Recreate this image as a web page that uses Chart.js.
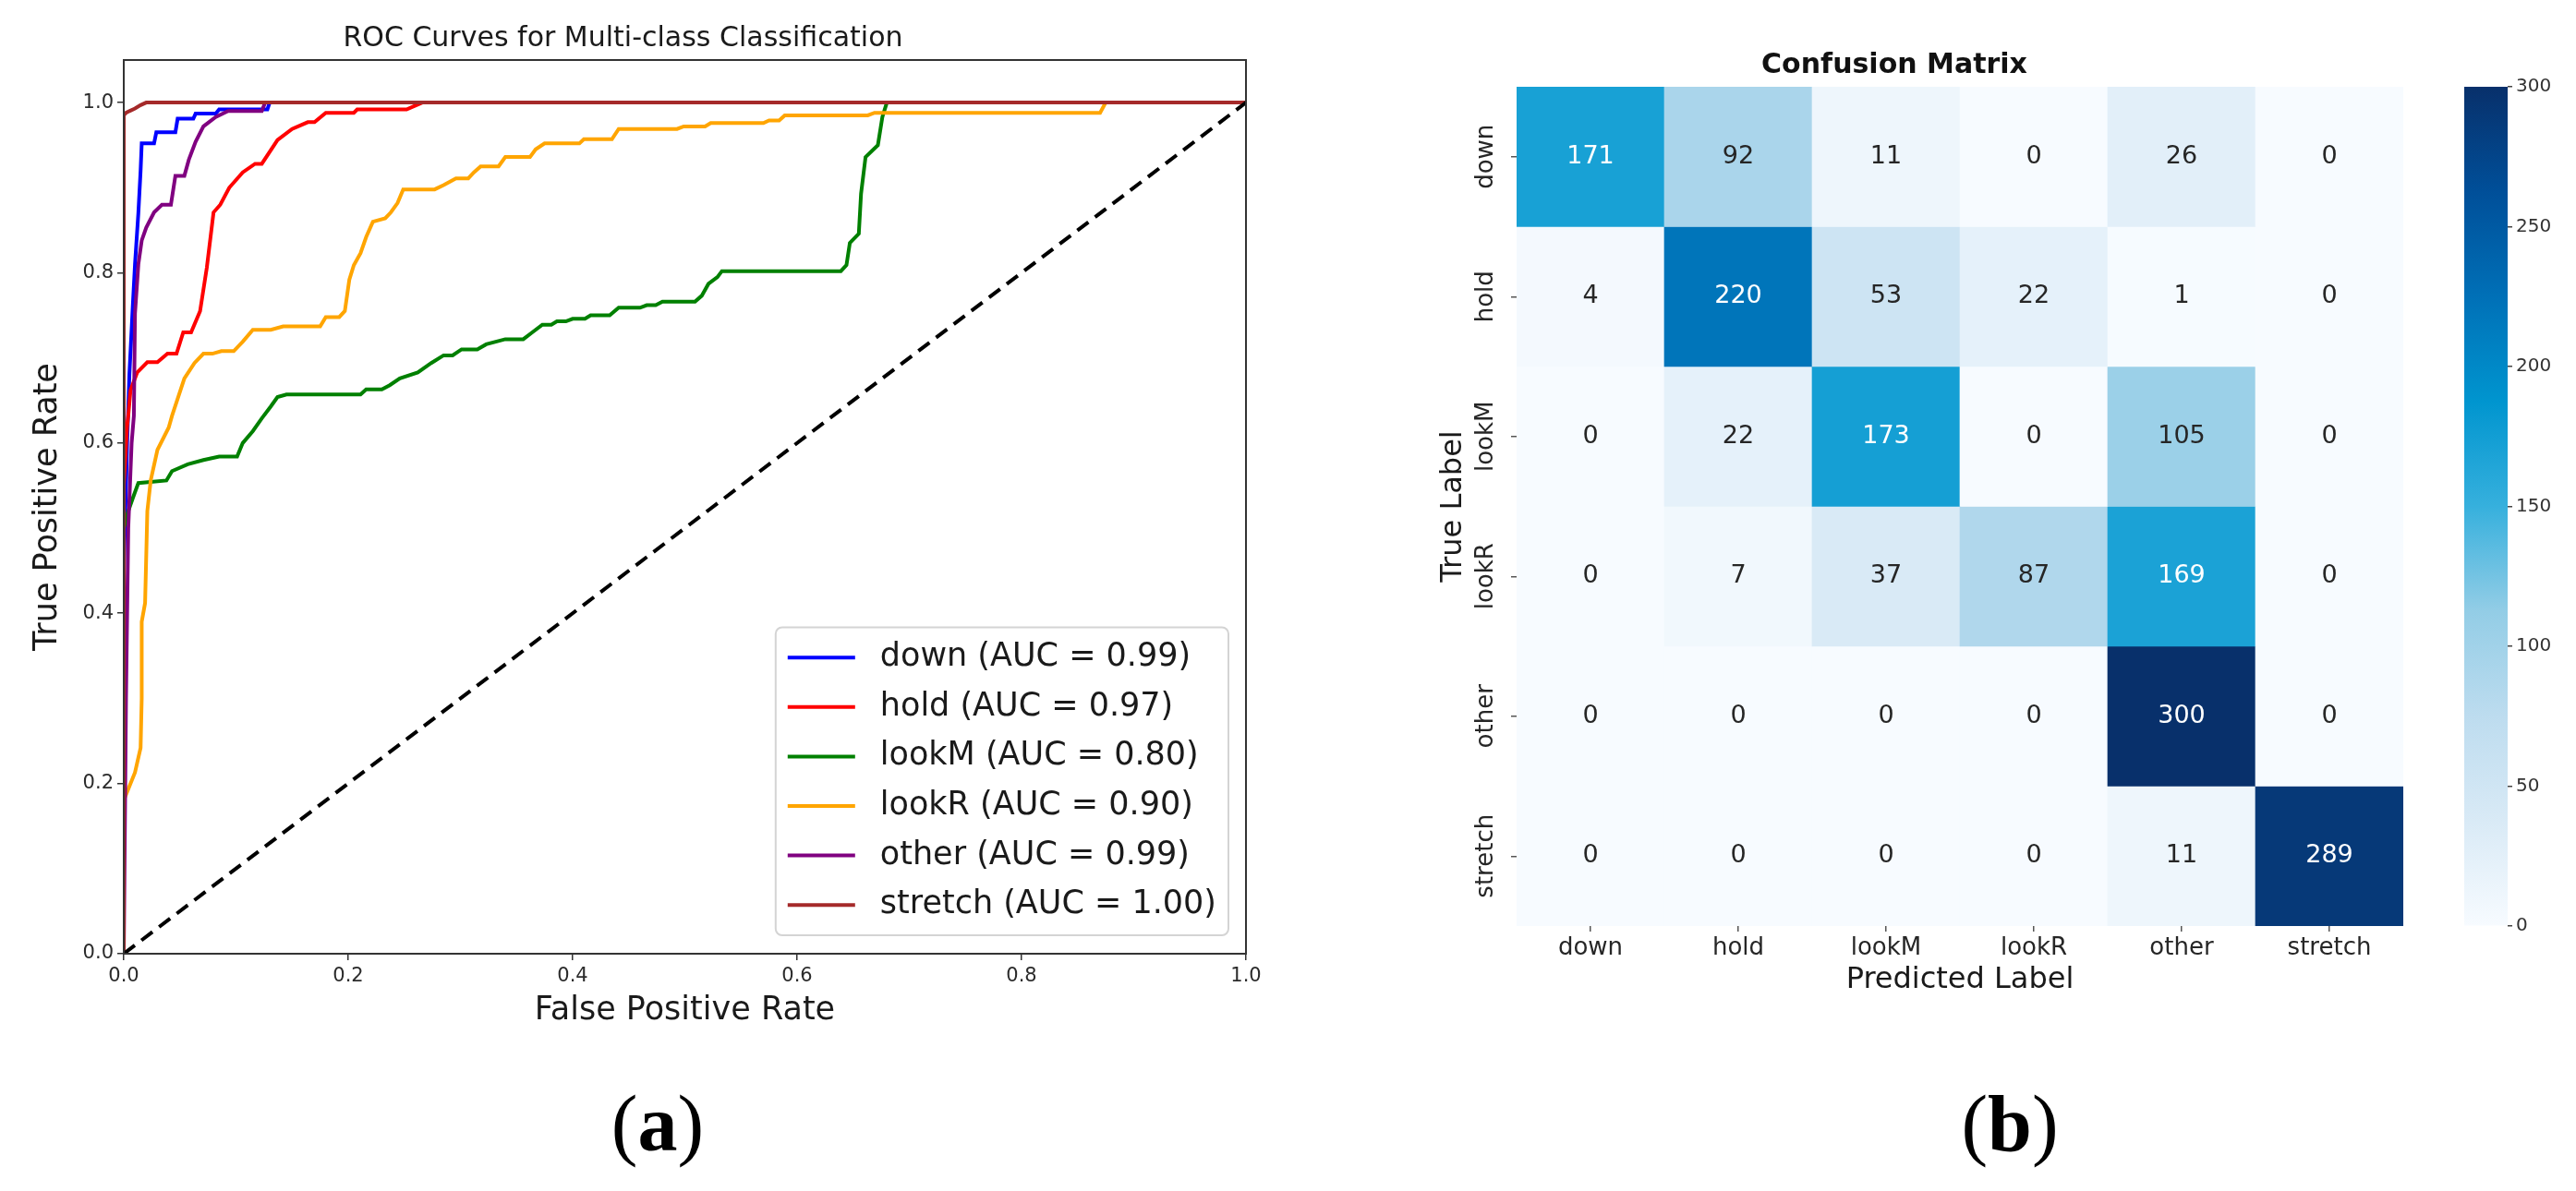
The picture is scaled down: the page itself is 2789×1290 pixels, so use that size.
<!DOCTYPE html>
<html>
<head>
<meta charset="utf-8">
<script src="https://cdn.jsdelivr.net/npm/chart.js@4.4.1/dist/chart.umd.min.js"></script>
<style>
    html, body { margin: 0; padding: 0; background: #fff; }
    #page { position: relative; width: 2789px; height: 1290px; overflow: hidden; background: #fff; }
    canvas { position: absolute; }
    .panel { position: absolute; width: 200px; text-align: center; font-family: "Liberation Serif", serif; font-size: 86px; line-height: 86px; color: #000; }
</style>
</head>
<body>
<div id="page">
    <canvas id="roc" width="1482" height="1120" style="left:0;top:0"></canvas>
    <canvas id="cm" width="1244" height="1090" style="left:1500px;top:0"></canvas>
    <canvas id="cbar" width="189" height="1100" style="left:2600px;top:0"></canvas>
    <div class="panel" style="left:612px;top:1174px">(<b>a</b>)</div>
    <div class="panel" style="left:2076px;top:1174px">(<b>b</b>)</div>
</div>
<script>
// class names and AUC values shown in the legend
const classNames = ['down', 'hold', 'lookM', 'lookR', 'other', 'stretch'];
const aucValues = [0.99, 0.97, 0.80, 0.90, 0.99, 1.00];

// ROC curves (false positive rate / true positive rate)
const downFpr = [0, 0, 0.003, 0.005, 0.008, 0.010, 0.013, 0.015, 0.016, 0.027, 0.029, 0.046, 0.048, 0.062, 0.064, 0.082, 0.085, 0.128, 0.130, 1];
const downTpr = [0, 0.45, 0.60, 0.68, 0.76, 0.81, 0.87, 0.92, 0.952, 0.952, 0.965, 0.965, 0.981, 0.981, 0.987, 0.987, 0.992, 0.992, 1, 1];

const holdFpr = [0, 0, 0.003, 0.004, 0.006, 0.012, 0.021, 0.030, 0.039, 0.047, 0.053, 0.060, 0.068, 0.074, 0.080, 0.086, 0.094, 0.106, 0.117, 0.123, 0.137, 0.150, 0.164, 0.170, 0.180, 0.205, 0.208, 0.252, 0.266, 1];
const holdTpr = [0, 0.55, 0.62, 0.632, 0.662, 0.683, 0.695, 0.695, 0.705, 0.705, 0.73, 0.73, 0.755, 0.806, 0.871, 0.88, 0.90, 0.918, 0.928, 0.928, 0.956, 0.969, 0.977, 0.977, 0.988, 0.988, 0.992, 0.992, 1, 1];

const lookMFpr = [0, 0, 0.004, 0.008, 0.013, 0.038, 0.043, 0.057, 0.071, 0.085, 0.101, 0.106, 0.115, 0.123, 0.131, 0.137, 0.145, 0.211, 0.216, 0.230,
    0.237, 0.246, 0.262, 0.274, 0.285, 0.293, 0.301, 0.315, 0.323, 0.340, 0.356, 0.364, 0.373, 0.381, 0.386, 0.394, 0.400, 0.411, 0.416, 0.433,
    0.441, 0.460, 0.466, 0.474, 0.480, 0.509, 0.515, 0.521, 0.529, 0.533, 0.639, 0.644, 0.647, 0.655, 0.657, 0.661, 0.672, 0.676, 0.680, 1];
const lookMTpr = [0, 0.50, 0.52, 0.535, 0.553, 0.556, 0.567, 0.575, 0.58, 0.584, 0.584, 0.60, 0.614, 0.629, 0.643, 0.654, 0.657, 0.657, 0.663, 0.663,
    0.668, 0.676, 0.683, 0.694, 0.703, 0.703, 0.71, 0.71, 0.716, 0.722, 0.722, 0.73, 0.739, 0.739, 0.743, 0.743, 0.746, 0.746, 0.75, 0.75,
    0.759, 0.759, 0.762, 0.762, 0.766, 0.766, 0.773, 0.787, 0.795, 0.802, 0.802, 0.809, 0.835, 0.846, 0.893, 0.936, 0.95, 0.983, 1, 1];

const lookRFpr = [0, 0, 0.003, 0.010, 0.015, 0.016, 0.016, 0.019, 0.021, 0.024, 0.030, 0.040, 0.043, 0.054, 0.063, 0.071, 0.079, 0.087, 0.098, 0.106,
    0.115, 0.131, 0.142, 0.175, 0.180, 0.192, 0.197, 0.201, 0.205, 0.211, 0.216, 0.222, 0.233, 0.238, 0.244, 0.249, 0.277, 0.285, 0.296, 0.307,
    0.312, 0.318, 0.334, 0.340, 0.362, 0.367, 0.375, 0.406, 0.410, 0.435, 0.441, 0.493, 0.499, 0.518, 0.523, 0.570, 0.575, 0.584, 0.589, 0.663,
    0.669, 0.870, 0.875, 1];
const lookRTpr = [0, 0.18, 0.19, 0.213, 0.242, 0.30, 0.39, 0.412, 0.52, 0.556, 0.592, 0.618, 0.632, 0.676, 0.694, 0.705, 0.705, 0.708, 0.708, 0.719,
    0.733, 0.733, 0.737, 0.737, 0.748, 0.748, 0.755, 0.792, 0.809, 0.823, 0.842, 0.86, 0.864, 0.871, 0.882, 0.898, 0.898, 0.903, 0.911, 0.911,
    0.918, 0.925, 0.925, 0.936, 0.936, 0.945, 0.952, 0.952, 0.957, 0.957, 0.969, 0.969, 0.972, 0.972, 0.976, 0.976, 0.979, 0.979, 0.985, 0.985,
    0.988, 0.988, 1, 1];

const otherFpr = [0, 0.002, 0.004, 0.007, 0.009, 0.010, 0.013, 0.016, 0.020, 0.027, 0.034, 0.042, 0.046, 0.054, 0.058, 0.064, 0.071, 0.082, 0.093, 0.123, 0.126, 1];
const otherTpr = [0, 0.30, 0.50, 0.60, 0.632, 0.752, 0.81, 0.838, 0.853, 0.871, 0.88, 0.88, 0.914, 0.914, 0.933, 0.954, 0.972, 0.983, 0.99, 0.99, 1, 1];

const stretchFpr = [0, 0, 0.002, 0.005, 0.010, 0.015, 0.020, 1];
const stretchTpr = [0, 0.985, 0.988, 0.990, 0.993, 0.997, 1, 1];

const chanceLine = [0, 1];
const rocTicks = [0, 0.2, 0.4, 0.6, 0.8, 1.0];

// confusion matrix, one row per true label
const cmLabels = ['down', 'hold', 'lookM', 'lookR', 'other', 'stretch'];
const cmDown = [171, 92, 11, 0, 26, 0];
const cmHold = [4, 220, 53, 22, 1, 0];
const cmLookM = [0, 22, 173, 0, 105, 0];
const cmLookR = [0, 7, 37, 87, 169, 0];
const cmOther = [0, 0, 0, 0, 300, 0];
const cmStretch = [0, 0, 0, 0, 11, 289];
const cbarTicks = [0, 50, 100, 150, 200, 250, 300];

// styles
const lineColors = ['#0000ff', '#ff0000', '#008000', '#ffa500', '#800080', '#a52a2a'];
const cmapStops = [[0, '#f7fbff'], [0.125, '#d9eaf6'], [0.25, '#bddcef'], [0.375, '#93cde6'], [0.5, '#36b0dd'],
    [0.625, '#0095cf'], [0.75, '#0070b7'], [0.875, '#004f99'], [1, '#08306b']];
const FONT = '"DejaVu Sans", sans-serif';

Chart.defaults.font.family = FONT;
Chart.defaults.color = '#222';

const rocSeries = [
    [downFpr, downTpr], [holdFpr, holdTpr], [lookMFpr, lookMTpr],
    [lookRFpr, lookRTpr], [otherFpr, otherTpr], [stretchFpr, stretchTpr]
];
const cmRows = [cmDown, cmHold, cmLookM, cmLookR, cmOther, cmStretch];

function toPoints(xs, ys) {
    return xs.map((x, i) => ({ x: x, y: ys[i] }));
}

function hexToRgb(h) {
    const n = parseInt(h.slice(1), 16);
    return [(n >> 16) & 255, (n >> 8) & 255, n & 255];
}

function blues(t) {
    t = Math.max(0, Math.min(1, t));
    for (let i = 1; i < cmapStops.length; i++) {
        if (t <= cmapStops[i][0]) {
            const [p0, c0] = cmapStops[i - 1];
            const [p1, c1] = cmapStops[i];
            const f = (t - p0) / (p1 - p0);
            const a = hexToRgb(c0), b = hexToRgb(c1);
            return a.map((v, k) => Math.round(v + (b[k] - v) * f));
        }
    }
    return hexToRgb(cmapStops[cmapStops.length - 1][1]);
}

function luminance(rgb) {
    const lin = rgb.map(v => {
        v /= 255;
        return v <= 0.03928 ? v / 12.92 : Math.pow((v + 0.055) / 1.055, 2.4);
    });
    return 0.2126 * lin[0] + 0.7152 * lin[1] + 0.0722 * lin[2];
}

const cbarMax = cbarTicks[cbarTicks.length - 1];

// full box round the ROC axes
const framePlugin = {
    id: 'frame',
    afterDraw(chart) {
        const { ctx, chartArea: a } = chart;
        ctx.save();
        ctx.strokeStyle = '#333';
        ctx.lineWidth = 2;
        ctx.strokeRect(a.left, a.top, a.right - a.left, a.bottom - a.top);
        ctx.restore();
    }
};

// matplotlib style legend in the lower right corner
const rocLegend = {
    id: 'rocLegend',
    afterDatasetsDraw(chart) {
        const { ctx, chartArea } = chart;
        const items = chart.data.datasets.filter(d => d.label);
        const rowH = 53.6, pad = 13, handle = 73, gap = 27;
        ctx.save();
        ctx.font = '35px ' + FONT;
        const textW = Math.max(...items.map(d => ctx.measureText(d.label).width));
        const w = pad + handle + gap + textW + pad;
        const h = items.length * rowH + 12;
        const x0 = chartArea.right - 19 - w;
        const y0 = chartArea.bottom - 20 - h;
        ctx.beginPath();
        ctx.roundRect(x0, y0, w, h, 7);
        ctx.fillStyle = 'rgba(255,255,255,0.85)';
        ctx.fill();
        ctx.strokeStyle = '#d4d4d4';
        ctx.lineWidth = 2;
        ctx.stroke();
        items.forEach((d, i) => {
            const cy = y0 + 6 + rowH * (i + 0.5);
            ctx.strokeStyle = d.borderColor;
            ctx.lineWidth = 4;
            ctx.beginPath();
            ctx.moveTo(x0 + pad, cy);
            ctx.lineTo(x0 + pad + handle, cy);
            ctx.stroke();
            ctx.fillStyle = '#1a1a1a';
            ctx.textBaseline = 'middle';
            ctx.fillText(d.label, x0 + pad + handle + gap, cy);
        });
        ctx.restore();
    }
};

// numbers written in the heatmap cells
const cellLabels = {
    id: 'cellLabels',
    afterDatasetsDraw(chart) {
        const ctx = chart.ctx;
        ctx.save();
        ctx.font = '27px ' + FONT;
        ctx.textAlign = 'center';
        ctx.textBaseline = 'middle';
        chart.data.datasets.forEach((ds, i) => {
            chart.getDatasetMeta(i).data.forEach((bar, j) => {
                const p = bar.getProps(['x', 'y', 'base'], true);
                const v = cmRows[i][j];
                ctx.fillStyle = luminance(blues(v / cbarMax)) > 0.408 ? '#262626' : '#ffffff';
                ctx.fillText(String(v), p.x, (p.y + p.base) / 2);
            });
        });
        ctx.restore();
    }
};

// ROC chart
const rocDatasets = rocSeries.map((s, i) => ({
    label: classNames[i] + ' (AUC = ' + aucValues[i].toFixed(2) + ')',
    data: toPoints(s[0], s[1]),
    borderColor: lineColors[i],
    borderWidth: 4,
    showLine: true,
    pointRadius: 0,
    tension: 0,
    order: classNames.length - i
}));
rocDatasets.push({
    data: toPoints(chanceLine, chanceLine),
    borderColor: '#000',
    borderWidth: 4,
    borderDash: [15, 9],
    showLine: true,
    pointRadius: 0,
    order: 0
});

new Chart(document.getElementById('roc'), {
    type: 'scatter',
    data: { datasets: rocDatasets },
    options: {
        responsive: false,
        animation: false,
        devicePixelRatio: 1,
        layout: { padding: { left: 0, right: 133, top: 0, bottom: 0 } },
        plugins: {
            legend: { display: false },
            tooltip: { enabled: false },
            title: {
                display: true,
                text: 'ROC Curves for Multi-class Classification',
                font: { size: 30, weight: 'normal' },
                color: '#1a1a1a',
                padding: { top: 24, bottom: 5 }
            }
        },
        scales: {
            x: {
                type: 'linear',
                min: 0,
                max: 1,
                afterBuildTicks: s => { s.ticks = rocTicks.map(v => ({ value: v })); },
                afterFit: s => { s.height = 87; },
                ticks: { callback: v => v.toFixed(1), font: { size: 21 }, color: '#2b2b2b', padding: 5, maxRotation: 0 },
                grid: { drawOnChartArea: false, tickLength: 7, color: '#333', lineWidth: 1.5 },
                border: { display: false },
                title: { display: true, text: 'False Positive Rate', font: { size: 35 }, color: '#1a1a1a', padding: { top: 0, bottom: 4 } }
            },
            y: {
                type: 'linear',
                min: 0,
                max: 1.05,
                afterBuildTicks: s => { s.ticks = rocTicks.map(v => ({ value: v })); },
                afterFit: s => { s.width = 134; },
                ticks: { callback: v => v.toFixed(1), font: { size: 21 }, color: '#2b2b2b', padding: 4 },
                grid: { drawOnChartArea: false, tickLength: 7, color: '#333', lineWidth: 1.5 },
                border: { display: false },
                title: { display: true, text: 'True Positive Rate', font: { size: 35 }, color: '#1a1a1a', padding: { top: 31, bottom: 0 } }
            }
        }
    },
    plugins: [framePlugin, rocLegend]
});

// confusion matrix as floating bars, one dataset per true label
const cmDatasets = cmRows.map((row, r) => ({
    label: cmLabels[r],
    data: row.map(() => [r, r + 1]),
    backgroundColor: row.map(v => 'rgb(' + blues(v / cbarMax).join(',') + ')'),
    borderWidth: 0,
    barPercentage: 1,
    categoryPercentage: 1,
    grouped: false
}));

new Chart(document.getElementById('cm'), {
    type: 'bar',
    data: { labels: cmLabels, datasets: cmDatasets },
    options: {
        responsive: false,
        animation: false,
        devicePixelRatio: 1,
        layout: { padding: { left: 0, right: 142, top: 0, bottom: 0 } },
        plugins: {
            legend: { display: false },
            tooltip: { enabled: false },
            title: {
                display: true,
                text: 'Confusion Matrix',
                font: { size: 30, weight: 'bold' },
                color: '#111',
                padding: { top: 53, bottom: 5 }
            }
        },
        scales: {
            x: {
                type: 'category',
                afterFit: s => { s.height = 87; },
                ticks: { font: { size: 26 }, color: '#262626', padding: 3, maxRotation: 0 },
                grid: { drawOnChartArea: false, offset: false, tickLength: 6, color: '#555', lineWidth: 1.5 },
                border: { display: false },
                title: { display: true, text: 'Predicted Label', font: { size: 32 }, color: '#1a1a1a', padding: { top: 0, bottom: 9 } }
            },
            y: {
                type: 'linear',
                min: 0,
                max: cmLabels.length,
                reverse: true,
                afterBuildTicks: s => { s.ticks = cmLabels.map((_, i) => ({ value: i + 0.5 })); },
                afterFit: s => { s.width = 142; },
                ticks: {
                    callback: (v, i) => cmLabels[i],
                    font: { size: 26 },
                    color: '#262626',
                    minRotation: 90,
                    maxRotation: 90,
                    crossAlign: 'center',
                    padding: -19
                },
                grid: { drawOnChartArea: false, tickLength: 6, color: '#555', lineWidth: 1.5 },
                border: { display: false },
                title: { display: true, text: 'True Label', font: { size: 32 }, color: '#1a1a1a', padding: { top: 54, bottom: 0 } }
            }
        }
    },
    plugins: [cellLabels]
});

// colour bar
new Chart(document.getElementById('cbar'), {
    type: 'bar',
    data: {
        labels: [''],
        datasets: [{
            data: [[cbarTicks[0], cbarMax]],
            backgroundColor: context => {
                const { chart } = context;
                const area = chart.chartArea;
                if (!area) return cmapStops[4][1];
                const g = chart.ctx.createLinearGradient(0, area.bottom, 0, area.top);
                cmapStops.forEach(([p, c]) => g.addColorStop(p, c));
                return g;
            },
            borderWidth: 0,
            barPercentage: 1,
            categoryPercentage: 1
        }]
    },
    options: {
        responsive: false,
        animation: false,
        devicePixelRatio: 1,
        layout: { padding: { left: 68, right: 0, top: 94, bottom: 97 } },
        plugins: { legend: { display: false }, tooltip: { enabled: false } },
        scales: {
            x: { display: false },
            y: {
                position: 'right',
                min: cbarTicks[0],
                max: cbarMax,
                afterBuildTicks: s => { s.ticks = cbarTicks.map(v => ({ value: v })); },
                afterFit: s => { s.width = 74; },
                ticks: { font: { size: 20 }, color: '#333', padding: 4 },
                grid: { drawOnChartArea: false, tickLength: 5, color: '#444', lineWidth: 1.5 },
                border: { display: false }
            }
        }
    }
});
</script>
</body>
</html>
